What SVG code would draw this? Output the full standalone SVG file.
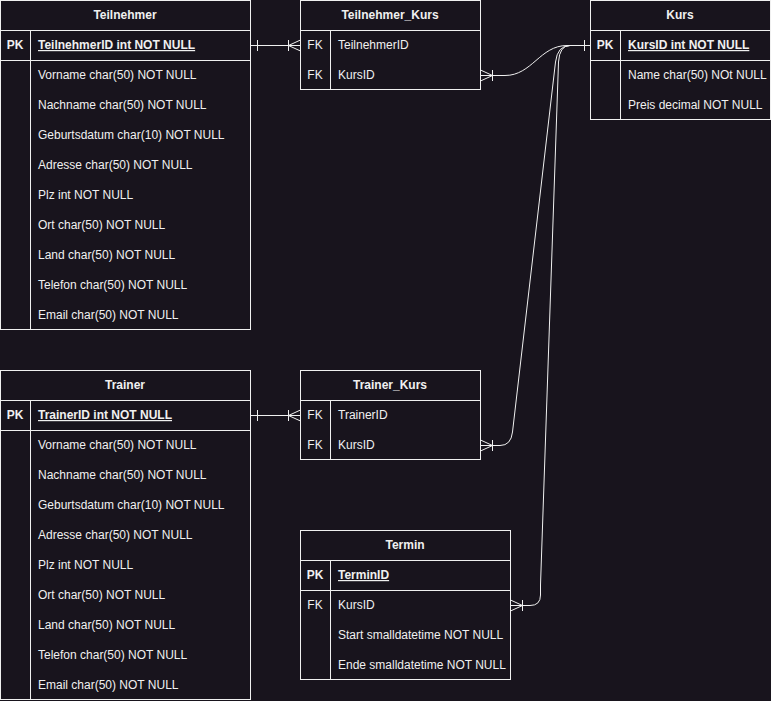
<svg xmlns="http://www.w3.org/2000/svg" width="771" height="701" viewBox="0 0 771 701">
  <style>
    .bg { fill: #18141d; }
    .box { fill: #18141d; stroke: #f0f0f0; stroke-width: 1; }
    .ln { stroke: #f0f0f0; stroke-width: 1; fill: none; }
    text { font-family: "Liberation Sans", Arial, Helvetica, sans-serif; font-size: 12px; fill: #f0f0f0; }
    .title { font-weight: bold; text-anchor: middle; }
    .key { text-anchor: middle; }
    .pk { font-weight: bold; }
    .pkf { font-weight: bold; text-decoration: underline; }
    .edge { stroke: #f0f0f0; stroke-width: 1; fill: none; }
  </style>
  <rect class="bg" x="0" y="0" width="771" height="701"/>

  <!-- Teilnehmer -->
  <g id="teilnehmer">
    <rect class="box" x="0.5" y="0.5" width="250" height="329"/>
    <line class="ln" x1="0.5" y1="30.5" x2="250.5" y2="30.5"/>
    <line class="ln" x1="0.5" y1="60.5" x2="250.5" y2="60.5"/>
    <line class="ln" x1="30.5" y1="30.5" x2="30.5" y2="329.5"/>
    <text class="title" x="125" y="19">Teilnehmer</text>
    <text class="key pk" x="15" y="49">PK</text>
    <text class="pkf" x="38" y="49">TeilnehmerID int NOT NULL</text>
    <text x="38" y="79">Vorname char(50) NOT NULL</text>
    <text x="38" y="109">Nachname char(50) NOT NULL</text>
    <text x="38" y="139">Geburtsdatum char(10) NOT NULL</text>
    <text x="38" y="169">Adresse char(50) NOT NULL</text>
    <text x="38" y="199">Plz int NOT NULL</text>
    <text x="38" y="229">Ort char(50) NOT NULL</text>
    <text x="38" y="259">Land char(50) NOT NULL</text>
    <text x="38" y="289">Telefon char(50) NOT NULL</text>
    <text x="38" y="319">Email char(50) NOT NULL</text>
  </g>

  <!-- Teilnehmer_Kurs -->
  <g id="teilnehmer_kurs">
    <rect class="box" x="300.5" y="0.5" width="180" height="89"/>
    <line class="ln" x1="300.5" y1="30.5" x2="480.5" y2="30.5"/>
    <line class="ln" x1="330.5" y1="30.5" x2="330.5" y2="89.5"/>
    <text class="title" x="390" y="19">Teilnehmer_Kurs</text>
    <text class="key" x="315" y="49">FK</text>
    <text x="338" y="49">TeilnehmerID</text>
    <text class="key" x="315" y="79">FK</text>
    <text x="338" y="79">KursID</text>
  </g>

  <!-- Kurs -->
  <g id="kurs">
    <rect class="box" x="590.5" y="0.5" width="180" height="119"/>
    <line class="ln" x1="590.5" y1="30.5" x2="770.5" y2="30.5"/>
    <line class="ln" x1="590.5" y1="60.5" x2="770.5" y2="60.5"/>
    <line class="ln" x1="620.5" y1="30.5" x2="620.5" y2="119.5"/>
    <text class="title" x="680" y="19">Kurs</text>
    <text class="key pk" x="605" y="49">PK</text>
    <text class="pkf" x="628" y="49">KursID int NOT NULL</text>
    <text x="628" y="79">Name char(50) NOt NULL</text>
    <text x="628" y="109">Preis decimal NOT NULL</text>
  </g>

  <!-- Trainer -->
  <g id="trainer">
    <rect class="box" x="0.5" y="370.5" width="250" height="329"/>
    <line class="ln" x1="0.5" y1="400.5" x2="250.5" y2="400.5"/>
    <line class="ln" x1="0.5" y1="430.5" x2="250.5" y2="430.5"/>
    <line class="ln" x1="30.5" y1="400.5" x2="30.5" y2="699.5"/>
    <text class="title" x="125" y="389">Trainer</text>
    <text class="key pk" x="15" y="419">PK</text>
    <text class="pkf" x="38" y="419">TrainerID int NOT NULL</text>
    <text x="38" y="449">Vorname char(50) NOT NULL</text>
    <text x="38" y="479">Nachname char(50) NOT NULL</text>
    <text x="38" y="509">Geburtsdatum char(10) NOT NULL</text>
    <text x="38" y="539">Adresse char(50) NOT NULL</text>
    <text x="38" y="569">Plz int NOT NULL</text>
    <text x="38" y="599">Ort char(50) NOT NULL</text>
    <text x="38" y="629">Land char(50) NOT NULL</text>
    <text x="38" y="659">Telefon char(50) NOT NULL</text>
    <text x="38" y="689">Email char(50) NOT NULL</text>
  </g>

  <!-- Trainer_Kurs -->
  <g id="trainer_kurs">
    <rect class="box" x="300.5" y="370.5" width="180" height="89"/>
    <line class="ln" x1="300.5" y1="400.5" x2="480.5" y2="400.5"/>
    <line class="ln" x1="330.5" y1="400.5" x2="330.5" y2="459.5"/>
    <text class="title" x="390" y="389">Trainer_Kurs</text>
    <text class="key" x="315" y="419">FK</text>
    <text x="338" y="419">TrainerID</text>
    <text class="key" x="315" y="449">FK</text>
    <text x="338" y="449">KursID</text>
  </g>

  <!-- Termin -->
  <g id="termin">
    <rect class="box" x="300.5" y="530.5" width="210" height="149"/>
    <line class="ln" x1="300.5" y1="560.5" x2="510.5" y2="560.5"/>
    <line class="ln" x1="300.5" y1="590.5" x2="510.5" y2="590.5"/>
    <line class="ln" x1="330.5" y1="560.5" x2="330.5" y2="679.5"/>
    <text class="title" x="405" y="549">Termin</text>
    <text class="key pk" x="315" y="579">PK</text>
    <text class="pkf" x="338" y="579">TerminID</text>
    <text class="key" x="315" y="609">FK</text>
    <text x="338" y="609">KursID</text>
    <text x="338" y="639">Start smalldatetime NOT NULL</text>
    <text x="338" y="669">Ende smalldatetime NOT NULL</text>
  </g>

  <!-- Connectors -->
  <g id="connectors">
    <!-- Teilnehmer.TeilnehmerID - Teilnehmer_Kurs.TeilnehmerID -->
    <path class="edge" d="M250.5,45.5 L300.5,45.5"/>
    <path class="edge" d="M257.5,40 L257.5,51"/>
    <path class="edge" d="M288.5,40 L288.5,51 M288.5,45.5 L300.5,40 M288.5,45.5 L300.5,51"/>

    <!-- Trainer.TrainerID - Trainer_Kurs.TrainerID -->
    <path class="edge" d="M250.5,415.5 L300.5,415.5"/>
    <path class="edge" d="M257.5,410 L257.5,421"/>
    <path class="edge" d="M288.5,410 L288.5,421 M288.5,415.5 L300.5,410 M288.5,415.5 L300.5,421"/>

    <!-- Teilnehmer_Kurs.KursID - Kurs.KursID -->
    <path class="edge" d="M480.5,75.5 L505,75.5 C532,75.5 540,45.5 567,45.5 L590.5,45.5"/>
    <path class="edge" d="M492.5,70 L492.5,81 M492.5,75.5 L480.5,70 M492.5,75.5 L480.5,81"/>

    <!-- Trainer_Kurs.KursID - Kurs.KursID -->
    <path class="edge" d="M480.5,445.5 L500,445.5 Q511,445.5 512.5,432 L555.5,62 Q557.5,45.5 570,45.5 L590.5,45.5"/>
    <path class="edge" d="M492.5,440 L492.5,451 M492.5,445.5 L480.5,440 M492.5,445.5 L480.5,451"/>

    <!-- Termin.KursID - Kurs.KursID -->
    <path class="edge" d="M510.5,605.5 L530,605.5 Q540.5,605.5 540.5,595 L540.5,585 L558.5,62 Q559.5,45.5 570,45.5 L590.5,45.5"/>
    <path class="edge" d="M522.5,600 L522.5,611 M522.5,605.5 L510.5,600 M522.5,605.5 L510.5,611"/>

    <!-- one-mark at Kurs -->
    <path class="edge" d="M584.5,40 L584.5,51"/>
  </g>
</svg>
